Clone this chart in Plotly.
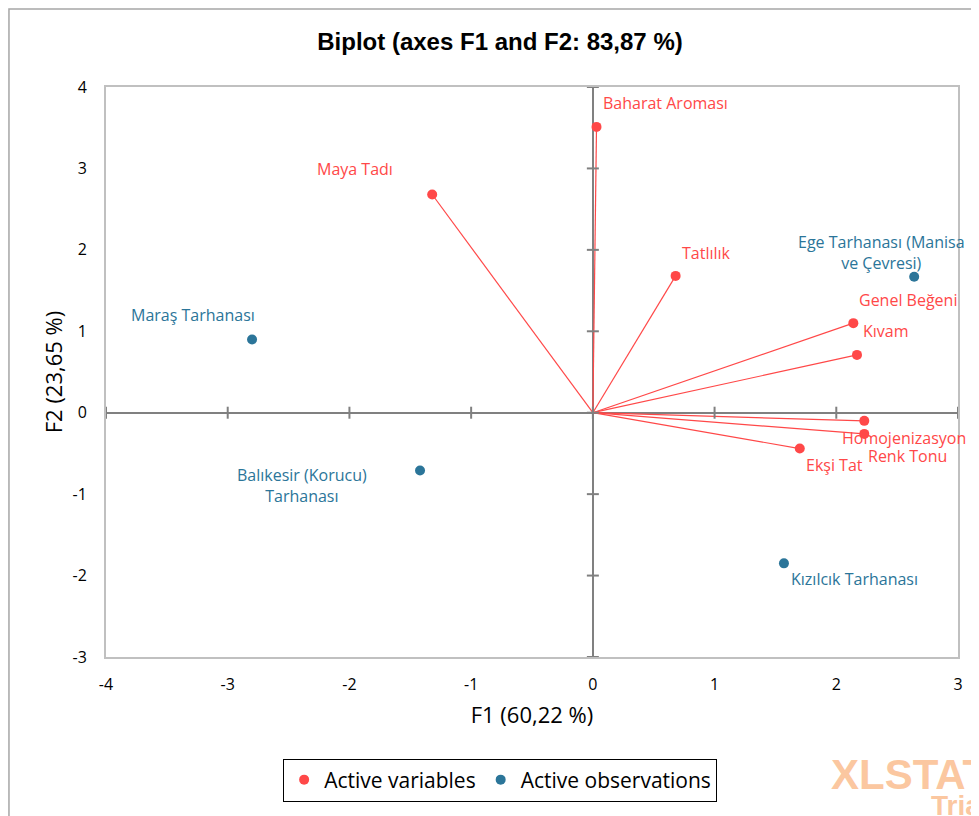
import plotly.graph_objects as go

# ---- data ----
variables = ["Baharat Aroması", "Maya Tadı", "Tatlılık", "Genel Beğeni",
             "Kıvam", "Homojenizasyon", "Renk Tonu", "Ekşi Tat"]
var_f1 = [0.03, -1.32, 0.68, 2.14, 2.17, 2.23, 2.23, 1.70]
var_f2 = [3.51, 2.68, 1.68, 1.10, 0.71, -0.10, -0.26, -0.44]

observations = ["Ege Tarhanası (Manisa<br>ve Çevresi)", "Maraş Tarhanası",
                "Balıkesir (Korucu)<br>Tarhanası", "Kızılcık Tarhanası"]
obs_f1 = [2.64, -2.80, -1.42, 1.57]
obs_f2 = [1.67, 0.90, -0.71, -1.85]

x_ticks = [-4, -3, -2, -1, 0, 1, 2, 3]
x_tick_labels = ["-4", "-3", "-2", "-1", "0", "1", "2", "3"]
y_ticks = [-3, -2, -1, 0, 1, 2, 3, 4]
y_tick_labels = ["-3", "-2", "-1", "0", "1", "2", "3", "4"]

title_text = "Biplot (axes F1 and F2: 83,87 %)"
x_title = "F1 (60,22 %)"
y_title = "F2 (23,65 %)"

# ---- styles ----
RED = "#FF4848"
BLUE = "#2B7599"
FONT = "Open Sans"

# page geometry (page has 8px body margin)
OFF = 8
W, H = 979 - OFF, 816 - OFF
PL, PR, PT, PB = 106, 957.7, 87, 657          # plot area in page pixels
L, R, T, B = PL - OFF, W - (PR - OFF), PT - OFF, H - (PB - OFF)
pw, ph = W - L - R, H - T - B


def px_x(p):
    return (p - OFF - L) / pw


def px_y(p):
    return ((PB - OFF) - (p - OFF)) / ph


# label placement (xanchor, xshift, yshift) in pixels
var_label_pos = [("left", 4, 24), ("right", -37, 25), ("left", 4, 23), ("left", 4, 23),
                 ("left", 4, 24), ("center", 40, -17), ("center", 43, -22), ("left", 4, -16)]
obs_label_pos = [("center", -33, 24), ("right", 5, 24), ("center", -118, -15), ("left", 5, -16)]

fig = go.Figure()

# vectors from origin
vx, vy = [], []
for a, b in zip(var_f1, var_f2):
    vx += [0, a, None]
    vy += [0, b, None]
fig.add_trace(go.Scatter(x=vx, y=vy, mode="lines", line=dict(color=RED, width=1.2),
                         showlegend=False, hoverinfo="skip"))

fig.add_trace(go.Scatter(x=var_f1, y=var_f2, mode="markers", name="Active variables",
                         marker=dict(color=RED, size=10), text=variables))
fig.add_trace(go.Scatter(x=obs_f1, y=obs_f2, mode="markers", name="Active observations",
                         marker=dict(color=BLUE, size=10), text=observations))

annotations = []
for name, a, b, (xa, xs, ys) in zip(variables, var_f1, var_f2, var_label_pos):
    annotations.append(dict(x=a, y=b, xref="x", yref="y", text=name, showarrow=False,
                            xanchor=xa, yanchor="middle", xshift=xs, yshift=ys,
                            font=dict(family=FONT, size=16, color=RED)))
for name, a, b, (xa, xs, ys) in zip(observations, obs_f1, obs_f2, obs_label_pos):
    annotations.append(dict(x=a, y=b, xref="x", yref="y", text=name, showarrow=False,
                            xanchor=xa, yanchor="middle", xshift=xs, yshift=ys, align="center",
                            font=dict(family=FONT, size=16, color=BLUE)))

# watermark
annotations.append(dict(x=px_x(829), y=px_y(774), xref="paper", yref="paper",
                        text="<b>XLSTAT</b>", showarrow=False, xanchor="left", yanchor="middle",
                        font=dict(family="Liberation Sans", size=42, color="#FBC7A0")))
annotations.append(dict(x=px_x(929), y=px_y(805), xref="paper", yref="paper",
                        text="<b>Trial</b>", showarrow=False, xanchor="left", yanchor="middle",
                        font=dict(family="Liberation Sans", size=28, color="#FBC7A0")))

shapes = []
for t in y_ticks:
    shapes.append(dict(type="line", xref="x", yref="y", xsizemode="pixel", xanchor=0,
                       x0=-6, x1=6, y0=t, y1=t, line=dict(color="#808080", width=2)))
for t in x_ticks:
    shapes.append(dict(type="line", xref="x", yref="y", ysizemode="pixel", yanchor=0,
                       y0=-6, y1=6, x0=t, x1=t, line=dict(color="#808080", width=2)))

# outer chart frame
shapes.append(dict(type="rect", xref="paper", yref="paper",
                   x0=px_x(9), x1=px_x(1300), y0=px_y(1300), y1=px_y(9),
                   line=dict(color="#A6A6A6", width=1.5), layer="below"))

fig.update_layout(
    width=W, height=H,
    margin=dict(l=L, r=R, t=T, b=B),
    paper_bgcolor="white", plot_bgcolor="white",
    title=dict(text=f"<b>{title_text}</b>", x=(500 - OFF) / W, xanchor="center",
               y=1 - (42 - OFF) / H, yanchor="middle",
               font=dict(family="Liberation Sans", size=24, color="black")),
    xaxis=dict(range=[-4, 3], tickvals=x_ticks, ticktext=x_tick_labels, showgrid=False,
               zeroline=True, zerolinecolor="#808080", zerolinewidth=2,
               showline=True, mirror=True, linecolor="#C0C0C0", linewidth=2,
               ticks="outside", ticklen=12, tickcolor="rgba(0,0,0,0)",
               tickfont=dict(family=FONT, size=16, color="black"),
               title=dict(text=x_title, standoff=13,
                          font=dict(family=FONT, size=22, color="black"))),
    yaxis=dict(range=[-3, 4], tickvals=y_ticks, ticktext=y_tick_labels, showgrid=False,
               zeroline=True, zerolinecolor="#808080", zerolinewidth=2,
               showline=True, mirror=True, linecolor="#C0C0C0", linewidth=2,
               ticks="outside", ticklen=14, tickcolor="rgba(0,0,0,0)",
               tickfont=dict(family=FONT, size=16, color="black"),
               title=dict(text=y_title, standoff=4,
                          font=dict(family=FONT, size=22, color="black"))),
    legend=dict(orientation="h", x=px_x(500), xanchor="center",
                y=px_y(780), yanchor="middle",
                bordercolor="black", borderwidth=1, bgcolor="white",
                font=dict(family=FONT, size=21, color="black")),
    annotations=annotations, shapes=shapes,
)

fig.write_html("out.html")
